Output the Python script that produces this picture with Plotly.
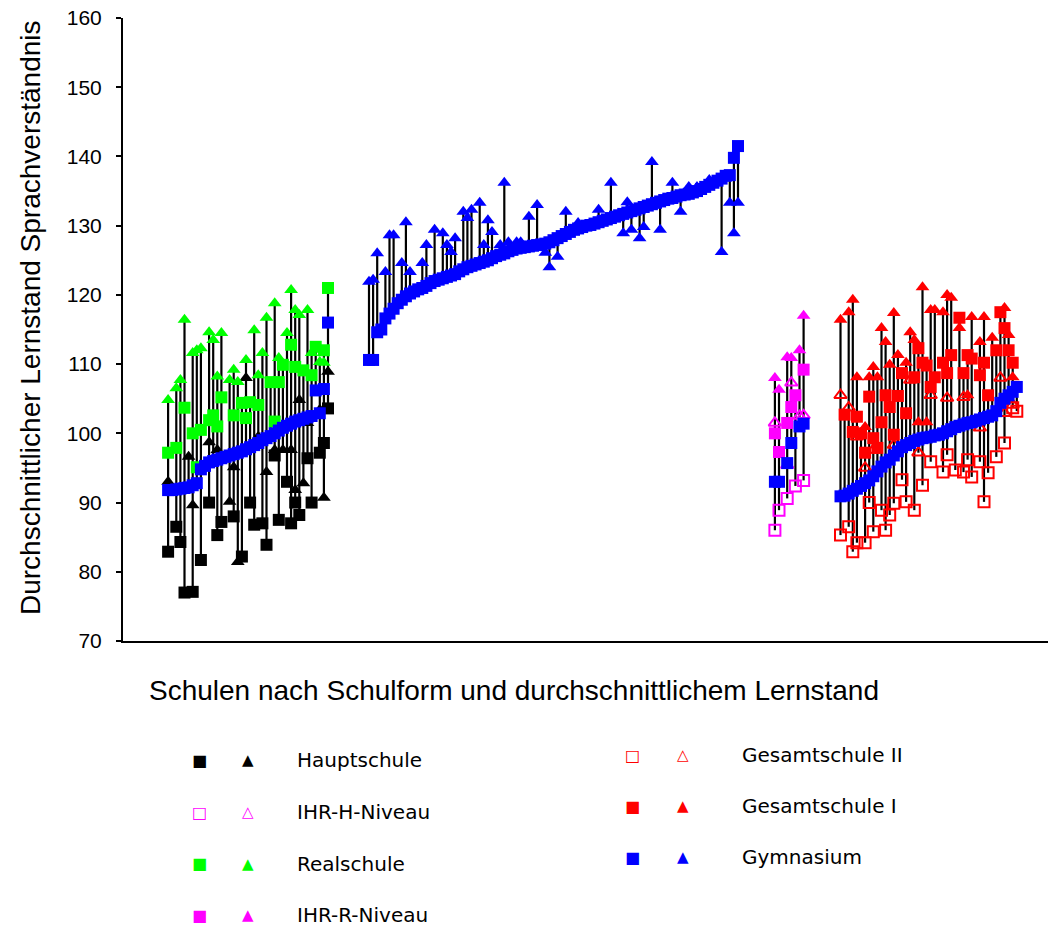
import plotly.graph_objects as go

N = None
# ---------------- Block 1: Hauptschule / Realschule ----------------
blue1 = [91.8, 91.8, 91.9, 92.0, 92.1, 92.2, 92.5, 92.8, 94.8, 95.3, 95.8, 96.0, 96.2, 96.4, 96.6, 96.8,
         97.0, 97.2, 97.4, 97.7, 98.0, 98.3, 98.6, 99.0, 99.3, 99.6, 100.0, 100.4, 100.8, 101.1, 101.4,
         101.7, 101.9, 102.1, 102.3, 102.5, 106.2, 102.9, 106.4, 116.0]
hs_sq = [82.9, N, 86.5, 84.3, 77.0, N, 77.1, N, 81.7, N, 90.0, N, 85.3, 87.2, N, N, 88.0, N, 82.2, N,
         90.0, 86.8, N, 87.0, 83.9, N, 96.8, 87.5, N, 93.0, 87.0, 90.0, 88.2, N, 96.4, 90.0, N, 97.2, 98.6, 103.6]
hs_tri = [93.0, N, N, N, N, 96.6, 89.6, N, N, N, 98.7, N, 97.6, N, N, 90.1, 95.1, 81.4, N, 108.0,
          N, N, 99.5, N, 94.4, N, 97.6, N, 97.6, N, 97.6, 91.8, 104.8, 92.8, 101.5, N, N, 103.4, 90.7, 108.9]
rs_sq = [97.2, N, 97.9, N, 103.7, N, 100.0, 95.1, 100.5, N, 101.9, 102.6, 101.0, 105.2, N, N, 102.6, N, 104.4, 102.2,
         104.5, N, 104.1, N, N, 107.4, 101.7, 107.4, 109.9, N, 112.8, 109.6, N, 109.1, N, 108.4, 112.5, N, 112.0, 121.0]
rs_tri = [104.8, N, 106.5, 107.7, 116.4, N, 111.6, 112.0, 112.3, N, 114.6, 113.5, 108.2, 114.5, N, 107.7, 109.2, 107.4, N, 110.6,
          N, 114.9, 108.4, 111.6, 116.7, N, 118.8, 110.9, N, 114.5, 120.7, 117.8, 117.1, N, 117.8, 111.6, N, 110.3, 110.2, N]

# ---------------- Block 2: Gymnasium ----------------
blue2 = [110.6, 110.6, 114.6, 115.0, 116.6, 117.3, 118.0, 118.8, 119.3, 119.8, 120.2, 120.5, 120.8, 121.0, 121.3,
         121.7, 122.0, 122.2, 122.4, 122.6, 122.8, 123.0, 123.4, 123.7, 124.0, 124.2, 124.4, 124.6, 124.8, 125.0,
         125.3, 125.6, 125.8, 126.0, 126.3, 126.5, 126.7, 126.8, 126.9, 127.0, 127.1, 127.2, 127.3, 127.4, 127.6,
         127.9, 128.2, 128.5, 128.8, 129.1, 129.4, 129.6, 129.8, 130.0, 130.1, 130.3, 130.5, 130.7, 130.9, 131.1,
         131.3, 131.5, 131.7, 131.9, 132.1, 132.3, 132.5, 132.7, 132.9, 133.1, 133.3, 133.5, 133.7, 133.9, 134.0,
         134.2, 134.4, 134.5, 134.6, 134.8, 135.0, 135.3, 135.6, 135.9, 136.2, 136.5, 136.8, 137.2, 137.3, 139.8, 141.5]
gy_tri = [121.9, 122.2, 126.0, N, 123.3, 128.6, 128.6, N, 124.6, 130.5, 123.3, N, N, 124.6, 127.2,
          N, 129.4, N, 128.9, 127.2, 126.2, 128.2, N, 132.0, 131.1, 132.3, N, 133.3, 127.2, 130.8,
          129.1, N, 127.2, 136.2, 127.6, N, 127.6, 127.6, N, 131.3, N, 133.0, N, 126.1, 124.0,
          N, 125.5, N, 132.0, N, N, 130.4, N, N, N, N, 132.3, N, N, 136.2,
          N, N, 128.9, 133.4, 129.4, N, 128.2, 129.8, N, 139.2, N, 129.4, N, N, 136.2,
          N, 132.0, N, 135.6, N, 135.6, N, N, 136.6, N, N, 126.2, N, 133.3, 128.9, 133.3]

# ---------------- Block 3: IHR ----------------
blue3 = [93.0, 93.0, N, 95.7, 98.6, N, 101.0, 101.4]
ihrh_sq = [86.0, 88.9, N, 90.6, N, 92.4, N, 93.2]
ihrh_tri = [101.5, N, N, 95.4, 107.3, N, 102.5, 102.6]
ihrr_sq = [100.0, 97.3, N, 101.5, 103.8, 105.5, N, 109.2]
ihrr_tri = [108.0, 106.3, N, 111.0, 110.9, N, 112.0, 117.0]

# ---------------- Block 4: Gesamtschule ----------------
blue4 = [90.9, 91.0, 91.3, 91.7, 92.0, 92.4, 92.8, 93.2, 93.8, 94.5, 95.2, 95.8, 96.2, 96.8, 97.4, 98.0,
         98.3, 98.6, 98.9, 99.1, 99.3, 99.4, 99.5, 99.7, 99.8, 100.0, 100.3, 100.6, 100.9, 101.1, 101.3,
         101.5, 101.6, 101.8, 102.0, 102.2, 102.4, 102.6, 103.2, 104.4, 105.0, 105.5, 106.0, 106.7]
gs1_sq = [N, 102.7, N, 100.2, 102.4, 100.0, 97.2, 105.3, 99.3, 97.9, 101.6, 105.5, 103.8, 99.8, 105.4, 108.7,
          102.9, N, 108.1, 112.3, 110.2, 109.8, 106.7, 108.1, N, 110.2, 108.7, 111.3, N, 116.7, 108.7,
          111.3, 110.8, N, 108.4, 110.2, 105.5, N, 112.0, 117.5, 115.2, 112.0, 110.2, N]
gs2_sq = [85.3, N, 86.5, 82.9, 84.2, N, 84.2, 90.0, 85.8, N, 88.9, 86.0, 88.2, 89.9, N, 93.3,
          90.1, N, 88.9, N, 92.5, N, 95.9, N, N, 94.4, 96.9, N, 94.7, N, 94.4,
          96.2, 93.7, N, 95.9, 90.1, 94.3, N, 96.6, N, 98.6, N, 103.7, 103.2]
gs1_tri = [116.4, N, 117.5, 119.3, 108.1, N, 100.9, 108.1, 109.6, 108.1, 115.2, 113.2, 109.9, 117.4, 111.3, N,
           110.2, 114.6, 113.5, 101.6, 121.1, 101.6, 117.8, 117.8, N, 117.5, 120.0, 119.6, N, 115.2, N,
           105.5, 116.8, N, 113.2, 116.8, N, 113.8, N, N, 118.1, 114.2, 108.1, N]
gs2_tri = [105.5, N, 103.7, N, 99.5, N, 95.0, N, 97.6, N, N, N, N, 98.3, N, N,
           N, 107.7, N, 97.2, N, N, 105.5, N, N, N, 105.1, N, N, N, 105.2,
           N, N, N, 100.8, N, N, N, N, 108.0, 102.9, N, 104.1, N]

# ---------------- layout constants ----------------
PX_PER_UNIT = 4.1
B1, B2, B3, B4 = 11, 60, 159, 175
X_MAX = 925 / PX_PER_UNIT

BLACK, GREEN, MAG, RED, BLUE = "#000000", "#00FF00", "#FF00FF", "#FF0000", "#0000FF"


def xs(start, n):
    return [start + i for i in range(n)]


blocks = [
    (B1, [blue1, hs_sq, hs_tri, rs_sq, rs_tri]),
    (B2, [blue2, gy_tri]),
    (B3, [blue3, ihrh_sq, ihrh_tri, ihrr_sq, ihrr_tri]),
    (B4, [blue4, gs1_sq, gs2_sq, gs1_tri, gs2_tri]),
]

# vertical connecting lines (min to max of each school)
lx, ly = [], []
for start, series in blocks:
    n = len(series[0])
    for i in range(n):
        vals = [s[i] for s in series if s[i] is not None]
        if len(vals) >= 2:
            lx += [start + i, start + i, None]
            ly += [min(vals), max(vals), None]

fig = go.Figure()
fig.add_trace(go.Scatter(x=lx, y=ly, mode="lines", line=dict(color="black", width=2.2),
                         hoverinfo="skip", showlegend=False))

SQ, TRI = 12, 12


def add(start, vals, symbol, color, size, open_=False):
    if open_:
        marker = dict(symbol=symbol, size=size - 1, color=color, line=dict(color=color, width=2))
    else:
        marker = dict(symbol=symbol, size=size, color=color, line=dict(width=0))
    fig.add_trace(go.Scatter(x=xs(start, len(vals)), y=vals, mode="markers", showlegend=False,
                             marker=marker))


# Block 1
add(B1, hs_sq, "square", BLACK, SQ)
add(B1, hs_tri, "triangle-up", BLACK, TRI)
add(B1, rs_sq, "square", GREEN, SQ)
add(B1, rs_tri, "triangle-up", GREEN, TRI)
add(B1, blue1, "square", BLUE, SQ)
# Block 2
add(B2, gy_tri, "triangle-up", BLUE, TRI)
add(B2, blue2, "square", BLUE, SQ)
# Block 3
add(B3, ihrh_sq, "square-open", MAG, SQ, True)
add(B3, ihrh_tri, "triangle-up-open", MAG, TRI, True)
add(B3, ihrr_sq, "square", MAG, SQ)
add(B3, ihrr_tri, "triangle-up", MAG, TRI)
add(B3, blue3, "square", BLUE, SQ)
# Block 4
add(B4, gs2_sq, "square-open", RED, SQ, True)
add(B4, gs2_tri, "triangle-up-open", RED, TRI, True)
add(B4, gs1_sq, "square", RED, SQ)
add(B4, gs1_tri, "triangle-up", RED, TRI)
add(B4, blue4, "square", BLUE, SQ)

L, R, T, B = 123, 1, 18, 288
W, H = 1049, 929
PW, PH = W - L - R, H - T - B


def px(x):
    return (x - L) / PW


def py(y):
    return (H - B - y) / PH


ann = []
ann.append(dict(text="Schulen nach Schulform und durchschnittlichem Lernstand", x=px(514), y=py(690),
                xref="paper", yref="paper", showarrow=False, xanchor="center", yanchor="middle",
                font=dict(family="Liberation Sans, Arial", size=28, color="black")))
ann.append(dict(text="Durchschnittlicher Lernstand Sprachverständnis", x=px(30), y=py(318),
                xref="paper", yref="paper", showarrow=False, textangle=-90, xanchor="center", yanchor="middle",
                font=dict(family="Liberation Sans, Arial", size=28, color="black")))

legend_rows = [
    # (sq_x, tri_x, text_x, y, square glyph, triangle glyph, color, label)
    (199, 248, 295, 760, "■", "▲", BLACK, "Hauptschule"),
    (199, 248, 295, 812, "□", "△", MAG, "IHR-H-Niveau"),
    (199, 248, 295, 864, "■", "▲", GREEN, "Realschule"),
    (199, 248, 295, 915, "■", "▲", MAG, "IHR-R-Niveau"),
    (632, 683, 740, 755, "□", "△", RED, "Gesamtschule II"),
    (632, 683, 740, 806, "■", "▲", RED, "Gesamtschule I"),
    (632, 683, 740, 857, "■", "▲", BLUE, "Gymnasium"),
]
for sx, tx, lx_, y, sg, tg, col, lab in legend_rows:
    ann.append(dict(text=sg, x=px(sx), y=py(y), xref="paper", yref="paper", showarrow=False,
                    xanchor="center", yanchor="middle", font=dict(family="DejaVu Sans", size=16, color=col)))
    ann.append(dict(text=tg, x=px(tx), y=py(y), xref="paper", yref="paper", showarrow=False,
                    xanchor="center", yanchor="middle", font=dict(family="DejaVu Sans", size=15, color=col)))
    ann.append(dict(text=lab, x=px(lx_), y=py(y), xref="paper", yref="paper", showarrow=False,
                    xanchor="left", yanchor="middle", font=dict(family="DejaVu Sans", size=20, color="black")))

fig.update_layout(
    width=W, height=H, margin=dict(l=L, r=R, t=T, b=B),
    paper_bgcolor="white", plot_bgcolor="white",
    xaxis=dict(range=[0, X_MAX], showgrid=False, zeroline=False, showline=True, linecolor="black",
               linewidth=2, showticklabels=False, ticks=""),
    yaxis=dict(range=[70, 160], dtick=10, tick0=70, showgrid=False, zeroline=False, showline=True,
               linecolor="black", linewidth=2, ticks="outside", ticklen=5, tickwidth=2, tickcolor="black",
               ticklabelstandoff=10,
               tickfont=dict(family="Liberation Sans, Arial", size=21, color="black")),
    annotations=ann,
    showlegend=False,
)

fig.write_html("out.html")
